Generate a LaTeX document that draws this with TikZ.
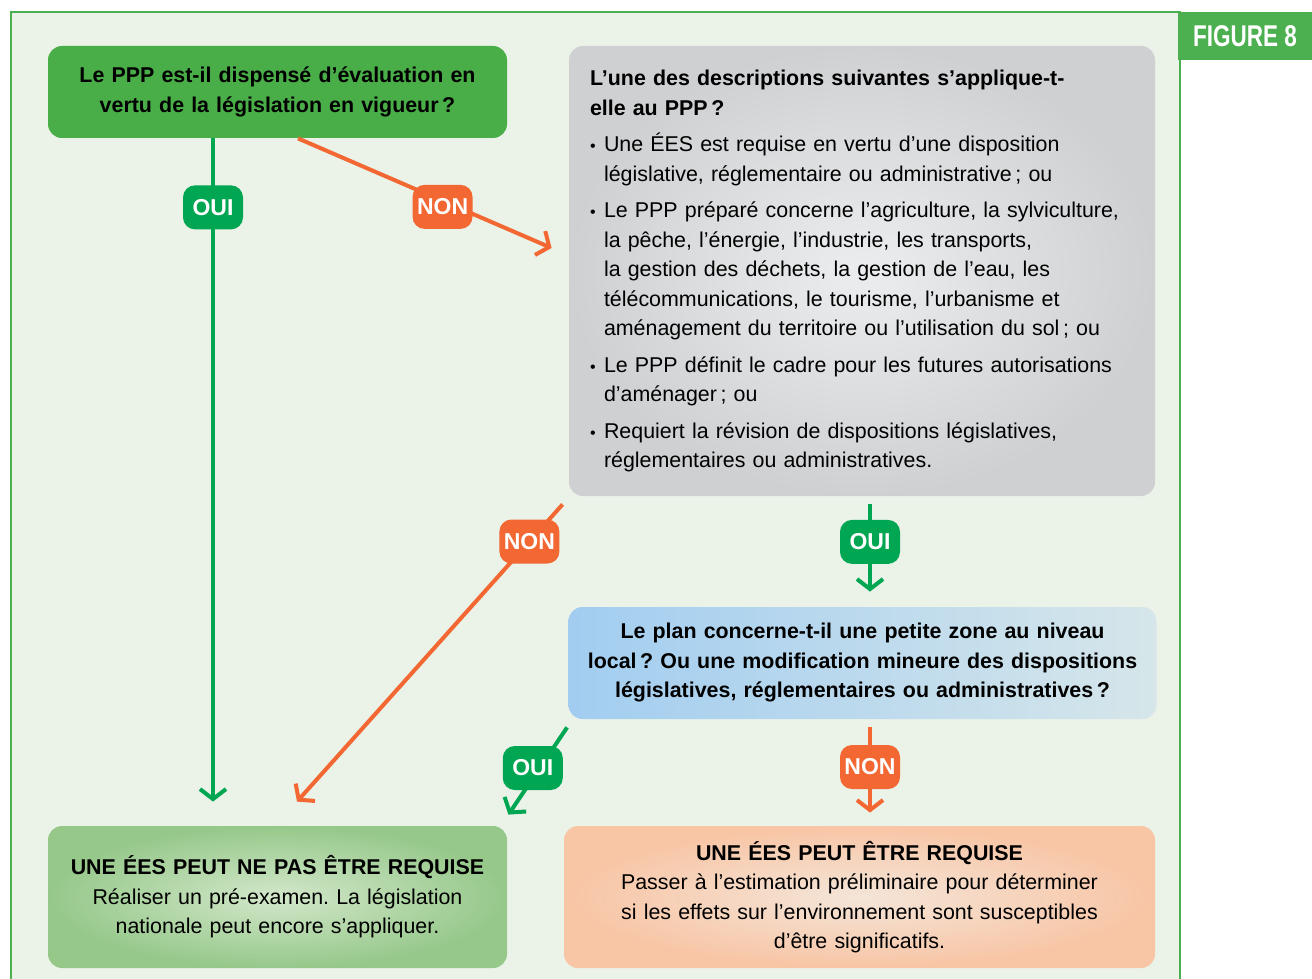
\documentclass[tikz,border=0pt]{standalone}
\usepackage{fontspec}
\setmainfont{Liberation Sans}
\usetikzlibrary{arrows.meta,calc}
\definecolor{fond}{RGB}{235,243,232}
\definecolor{cadre}{RGB}{76,176,80}
\definecolor{vertOui}{RGB}{0,166,81}
\definecolor{orangeNon}{RGB}{242,103,50}
\definecolor{vertA}{RGB}{74,174,72}
\definecolor{vertB}{RGB}{132,195,116}
\definecolor{grisA}{RGB}{207,208,210}
\definecolor{grisB}{RGB}{236,237,238}
\definecolor{bleuA}{RGB}{162,205,240}
\definecolor{bleuB}{RGB}{214,230,234}
\definecolor{vertC}{RGB}{210,231,202}
\definecolor{vertD}{RGB}{150,200,138}
\definecolor{peche}{RGB}{244,229,216}
\definecolor{pecheB}{RGB}{248,197,165}
\newcommand\puce{\par\leftskip=7pt\noindent\llap{\makebox[7pt][l]{\footnotesize•}}}
\frenchspacing
\begin{document}
\begin{tikzpicture}[x=0.5pt, y=-0.5pt,
    boite/.style = {rounded corners=7pt, align=center, inner sep=3pt,
      font=\fontsize{10.7}{14.75}\selectfont},
    question/.style = {boite, font=\bfseries\fontsize{10.7}{14.75}\selectfont},
    etiq/.style = {rounded corners=6pt, text=white, inner sep=1pt,
      minimum width=30pt, minimum height=22pt,
      font=\bfseries\fontsize{11.5}{12}\selectfont},
    etiq oui/.style = {etiq, fill=vertOui},
    etiq non/.style = {etiq, fill=orangeNon},
    lien oui/.style = {draw=vertOui, line width=2pt,
      -{Straight Barb[length=5pt,width=13pt]}},
    lien non/.style = {draw=orangeNon, line width=2pt,
      -{Straight Barb[length=5pt,width=13pt]}}]
  \useasboundingbox (0,0) rectangle (1312,979);
  \fill[fond] (11,12) rectangle (1180,979);
  \draw[cadre, line width=1.2pt] (11,979) |- (1180,12) -- (1180,979);
  \node[fill=cadre, minimum width=67pt, minimum height=24pt, text=white,
    font=\bfseries\fontsize{15}{16}\selectfont] (fig) at (1245,36)
    {\scalebox{0.75}[1]{FIGURE 8}};

  \node[question, left color=vertA, middle color=vertB, right color=vertA,
    text width=223pt, minimum width=229.5pt, minimum height=46pt] (q1) at (277.5,92)
    {Le PPP est-il dispensé d’évaluation en\\vertu de la législation en vigueur\,?};
  \node[boite, align=left, inner color=grisB, outer color=grisA,
    text width=272pt, inner xsep=10.5pt, minimum height=225pt] (q2) at (862,271)
    {\setlength{\parskip}{3.5pt}{\bfseries L’une des descriptions suivantes s’applique-t-\\elle au PPP\,?}
     \puce Une ÉES est requise en vertu d’une disposition\\législative, réglementaire ou administrative\,; ou
     \puce Le PPP préparé concerne l’agriculture, la sylviculture,\\la pêche, l’énergie, l’industrie, les transports,\\la gestion des déchets, la gestion de l’eau, les\\télécommunications, le tourisme, l’urbanisme et\\aménagement du territoire ou l’utilisation du sol\,; ou
     \puce Le PPP définit le cadre pour les futures autorisations\\d’aménager\,; ou
     \puce Requiert la révision de dispositions législatives,\\réglementaires ou administratives.\par};
  \node[question, left color=bleuA, right color=bleuB,
    text width=288pt, minimum width=292.5pt, minimum height=56pt] (q3) at (862.5,663)
    {Le plan concerne-t-il une petite zone au niveau\\local\,? Ou une modification mineure des dispositions\\législatives, réglementaires ou administratives\,?};
  \node[boite, inner color=vertC, outer color=vertD,
    text width=223pt, minimum width=229.5pt, minimum height=71pt] (r1) at (277.5,897)
    {{\bfseries UNE ÉES PEUT NE PAS ÊTRE REQUISE}\\Réaliser un pré-examen. La législation\\nationale peut encore s’appliquer.};
  \node[boite, inner color=peche, outer color=pecheB,
    text width=288pt, minimum width=295.5pt, minimum height=71pt] (r2) at (859.5,897)
    {{\bfseries UNE ÉES PEUT ÊTRE REQUISE}\\Passer à l’estimation préliminaire pour déterminer\\si les effets sur l’environnement sont susceptibles\\d’être significatifs.};

  \draw[lien oui] ($(q1.south)+(-64.5,0)$) -- ($(r1.north)+(-64.5,-24)$)
    node[etiq oui, pos=0.104] (oui1) {OUI};
  \draw[lien non] ($(q1.south)+(20.5,0)$) -- ($(q2.west)+(-17,-23)$)
    node[etiq non, pos=0.57, yshift=-3pt] (non1) {NON};
  \draw[lien non] ($(q2.south west)+(-6,8)$) -- ($(r1.north)+(19.5,-24)$)
    node[etiq non, pos=0.125] (non2) {NON};
  \draw[lien oui] ($(q2.south)+(8,8)$) -- ($(q3.north)+(7.5,-15)$)
    node[etiq oui, pos=0.43] (oui2) {OUI};
  \draw[lien oui] ($(q3.south west)+(-1,8)$) -- ($(r1.north east)+(1,-11)$)
    node[etiq oui, pos=0.5, xshift=-2.5pt, yshift=1.5pt] (oui3) {OUI};
  \draw[lien non] ($(q3.south)+(7.5,8)$) -- ($(r2.north)+(10.5,-13)$)
    node[etiq non, pos=0.465] (non3) {NON};
\end{tikzpicture}
\end{document}
